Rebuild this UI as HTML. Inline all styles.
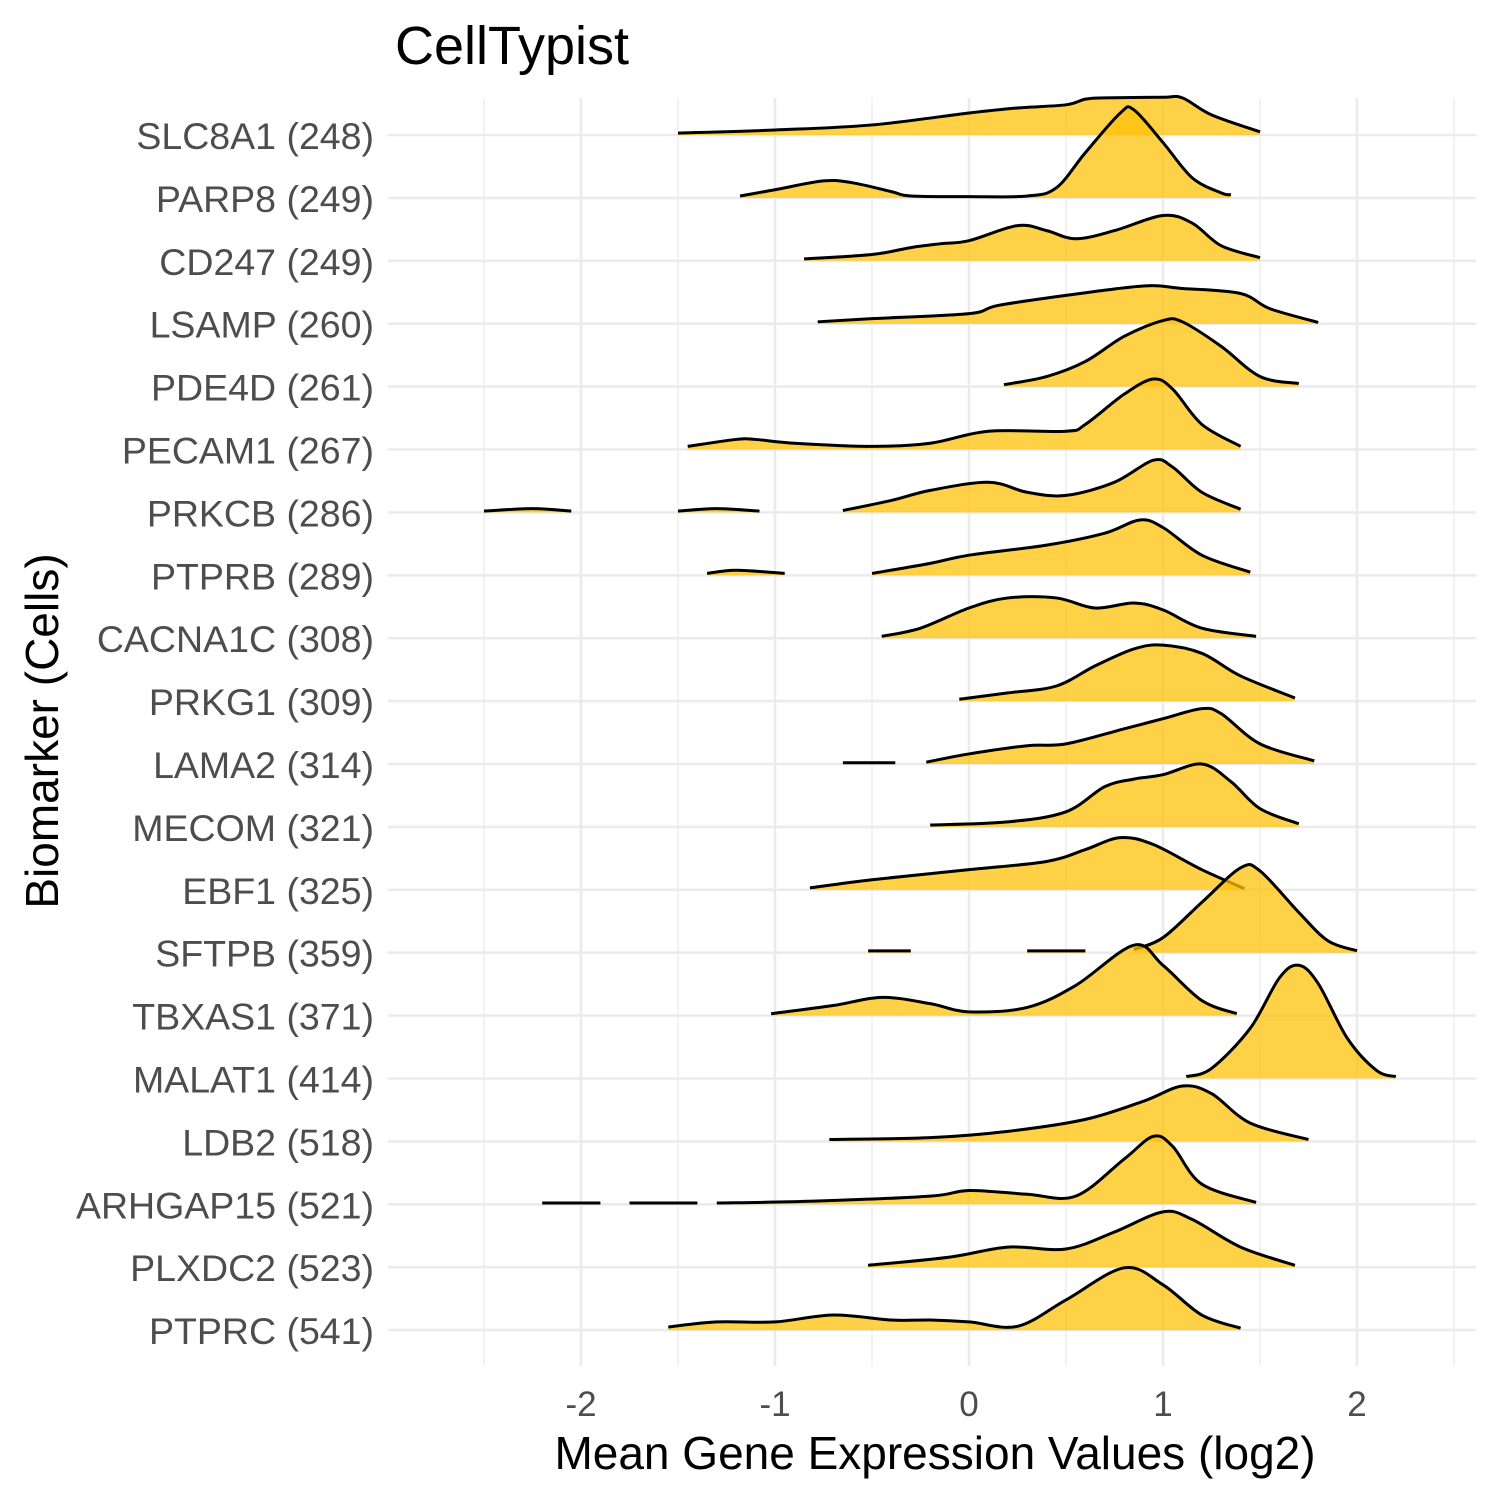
<!DOCTYPE html>
<html><head><meta charset="utf-8"><style>
html,body{margin:0;padding:0;background:#fff;}
svg{display:block;font-family:"Liberation Sans",Arial,sans-serif;}
</style></head><body>
<svg id="chart" width="1500" height="1500" viewBox="0 0 1500 1500">
<g id="grid"></g>
<g id="ridges"></g>
<g id="ylabels"></g>
<g id="xlabels"></g>
<text x="395" y="64" font-size="54" fill="#000">CellTypist</text>
<text x="935" y="1469" font-size="46" fill="#000" text-anchor="middle">Mean Gene Expression Values (log2)</text>
<text transform="translate(58,731) rotate(-90)" font-size="46" fill="#000" text-anchor="middle">Biomarker (Cells)</text>
</svg>
<script>
const categories = ["SLC8A1 (248)","PARP8 (249)","CD247 (249)","LSAMP (260)","PDE4D (261)","PECAM1 (267)","PRKCB (286)","PTPRB (289)","CACNA1C (308)","PRKG1 (309)","LAMA2 (314)","MECOM (321)","EBF1 (325)","SFTPB (359)","TBXAS1 (371)","MALAT1 (414)","LDB2 (518)","ARHGAP15 (521)","PLXDC2 (523)","PTPRC (541)"];
const xTicks = [-2,-1,0,1,2];
const xTickLabels = ["-2","-1","0","1","2"];
const xMinor = [-2.5,-1.5,-0.5,0.5,1.5,2.5];
const densities = [
 [[[-1.5,0.03],[-1,0.08],[-0.5,0.16],[0,0.35],[0.25,0.43],[0.5,0.48],[0.6,0.57],[0.7,0.59],[1.0,0.6],[1.1,0.59],[1.25,0.32],[1.5,0.05]]],
 [[[-1.18,0.03],[-1,0.13],[-0.75,0.27],[-0.6,0.24],[-0.4,0.1],[-0.3,0.03],[0,0.02],[0.3,0.03],[0.45,0.16],[0.6,0.72],[0.78,1.35],[0.85,1.4],[1.0,0.88],[1.15,0.32],[1.3,0.08],[1.35,0.05]]],
 [[[-0.85,0.03],[-0.5,0.1],[-0.3,0.21],[-0.15,0.27],[0,0.32],[0.25,0.56],[0.4,0.48],[0.55,0.35],[0.75,0.48],[1.0,0.72],[1.15,0.6],[1.3,0.24],[1.5,0.05]]],
 [[[-0.78,0.03],[-0.5,0.08],[0,0.16],[0.15,0.29],[0.5,0.45],[0.9,0.6],[1.1,0.56],[1.4,0.48],[1.55,0.24],[1.8,0.02]]],
 [[[0.18,0.03],[0.4,0.16],[0.6,0.4],[0.8,0.8],[1.0,1.05],[1.1,1.03],[1.3,0.64],[1.5,0.16],[1.7,0.05]]],
 [[[-1.45,0.05],[-1.2,0.16],[-1.1,0.16],[-0.9,0.1],[-0.5,0.05],[-0.2,0.1],[0.1,0.29],[0.5,0.29],[0.6,0.4],[0.8,0.88],[0.95,1.12],[1.05,0.96],[1.2,0.4],[1.4,0.05]]],
 [[[-2.5,0.02],[-2.25,0.06],[-2.05,0.02]],[[-1.5,0.02],[-1.3,0.06],[-1.08,0.02]],[[-0.65,0.03],[-0.4,0.19],[-0.2,0.35],[0.1,0.48],[0.3,0.32],[0.5,0.27],[0.75,0.48],[0.95,0.83],[1.05,0.72],[1.2,0.32],[1.4,0.05]]],
 [[[-1.35,0.03],[-1.2,0.08],[-0.95,0.03]],[[-0.5,0.03],[-0.2,0.19],[0,0.32],[0.4,0.48],[0.7,0.67],[0.88,0.88],[1.0,0.76],[1.2,0.32],[1.45,0.05]]],
 [[[-0.45,0.03],[-0.25,0.16],[0,0.48],[0.2,0.64],[0.45,0.64],[0.65,0.48],[0.85,0.56],[1.0,0.45],[1.2,0.16],[1.48,0.03]]],
 [[[-0.05,0.03],[0.2,0.13],[0.45,0.24],[0.65,0.56],[0.85,0.83],[1.0,0.89],[1.2,0.76],[1.4,0.4],[1.68,0.05]]],
 [[[-0.65,0.02],[-0.38,0.02]],[[-0.22,0.03],[0,0.16],[0.3,0.29],[0.5,0.32],[0.8,0.56],[1.0,0.72],[1.2,0.88],[1.3,0.8],[1.5,0.32],[1.78,0.05]]],
 [[[-0.2,0.03],[0.2,0.08],[0.5,0.24],[0.7,0.64],[0.85,0.76],[1.0,0.83],[1.2,1.0],[1.35,0.72],[1.5,0.29],[1.7,0.05]]],
 [[[-0.82,0.03],[-0.5,0.16],[0,0.32],[0.4,0.45],[0.6,0.64],[0.78,0.83],[0.95,0.72],[1.2,0.32],[1.42,0.02]]],
 [[[-0.52,0.03],[-0.3,0.03]],[[0.3,0.03],[0.6,0.03]],[[0.85,0.05],[1.0,0.24],[1.2,0.8],[1.4,1.35],[1.5,1.3],[1.7,0.64],[1.85,0.19],[2.0,0.03]]],
 [[[-1.02,0.03],[-0.7,0.16],[-0.45,0.29],[-0.2,0.19],[0,0.06],[0.3,0.13],[0.55,0.48],[0.85,1.12],[1.0,0.8],[1.2,0.24],[1.38,0.03]]],
 [[[1.12,0.03],[1.25,0.16],[1.45,0.8],[1.6,1.6],[1.7,1.8],[1.8,1.51],[1.95,0.64],[2.1,0.13],[2.2,0.03]]],
 [[[-0.72,0.03],[-0.2,0.06],[0.2,0.16],[0.6,0.35],[0.9,0.64],[1.1,0.88],[1.25,0.76],[1.45,0.29],[1.75,0.03]]],
 [[[-2.2,0.02],[-1.9,0.02]],[[-1.75,0.02],[-1.4,0.02]],[[-1.3,0.02],[-0.8,0.05],[-0.2,0.13],[0,0.22],[0.3,0.16],[0.55,0.13],[0.8,0.72],[0.95,1.08],[1.05,0.92],[1.2,0.32],[1.48,0.03]]],
 [[[-0.52,0.03],[-0.1,0.16],[0.2,0.32],[0.5,0.29],[0.75,0.56],[1.0,0.88],[1.15,0.76],[1.4,0.32],[1.68,0.03]]],
 [[[-1.55,0.05],[-1.3,0.13],[-1.0,0.13],[-0.7,0.24],[-0.4,0.16],[-0.2,0.16],[0,0.13],[0.25,0.06],[0.5,0.48],[0.8,0.99],[1.0,0.72],[1.2,0.24],[1.4,0.03]]]
];
const NS="http://www.w3.org/2000/svg";
const X0=969, XS=194, Y0=135, YS=62.9;
const xScale=v=>X0+v*XS;
const yBase=i=>Y0+i*YS;
const grid=document.getElementById('grid');
function line(x1,y1,x2,y2,w,name){const l=document.createElementNS(NS,'line');l.setAttribute('x1',x1);l.setAttribute('y1',y1);l.setAttribute('x2',x2);l.setAttribute('y2',y2);l.setAttribute('stroke','#ebebeb');l.setAttribute('stroke-width',w);


grid.appendChild(l);}
xMinor.forEach(v=>line(xScale(v),98,xScale(v),1366,1.3,'minor-gridline'));
xTicks.forEach(v=>line(xScale(v),98,xScale(v),1366,2.6,'major-gridline'));
categories.forEach((c,i)=>line(388,yBase(i),1476,yBase(i),2.6,'row-gridline'));
const xl=document.getElementById('xlabels');
xTicks.forEach((v,k)=>{const t=document.createElementNS(NS,'text');t.setAttribute('x',xScale(v));t.setAttribute('y',1416);t.setAttribute('font-size','35');t.setAttribute('fill','#4d4d4d');t.setAttribute('text-anchor','middle');t.textContent=xTickLabels[k];


xl.appendChild(t);});
const yl=document.getElementById('ylabels');
categories.forEach((c,i)=>{const t=document.createElementNS(NS,'text');t.setAttribute('x',374);t.setAttribute('y',yBase(i)+14);t.setAttribute('font-size','37.5');t.setAttribute('fill','#4d4d4d');t.setAttribute('text-anchor','end');t.textContent=c;


yl.appendChild(t);});
function smooth(pts){let d='M'+pts[0][0]+','+pts[0][1];for(let i=0;i<pts.length-1;i++){const p0=pts[Math.max(0,i-1)],p1=pts[i],p2=pts[i+1],p3=pts[Math.min(pts.length-1,i+2)];
const c1x=p1[0]+(p2[0]-p0[0])/6,c1y=p1[1]+(p2[1]-p0[1])/6,c2x=p2[0]-(p3[0]-p1[0])/6,c2y=p2[1]-(p3[1]-p1[1])/6;d+=' C'+c1x+','+c1y+' '+c2x+','+c2y+' '+p2[0]+','+p2[1];}return d;}
const rg=document.getElementById('ridges');
densities.forEach((segs,i)=>{const b=yBase(i);segs.forEach(seg=>{const pts=seg.map(p=>[xScale(p[0]),b-p[1]*YS]);
const d=smooth(pts);
const f=document.createElementNS(NS,'path');f.setAttribute('d',d+' L'+pts[pts.length-1][0]+','+b+' L'+pts[0][0]+','+b+' Z');f.setAttribute('fill','#FFC20A');f.setAttribute('fill-opacity','0.75');


rg.appendChild(f);
const s=document.createElementNS(NS,'path');s.setAttribute('d',d);s.setAttribute('fill','none');s.setAttribute('stroke','#000');s.setAttribute('stroke-width','3');


rg.appendChild(s);});});
</script>
</body></html>
